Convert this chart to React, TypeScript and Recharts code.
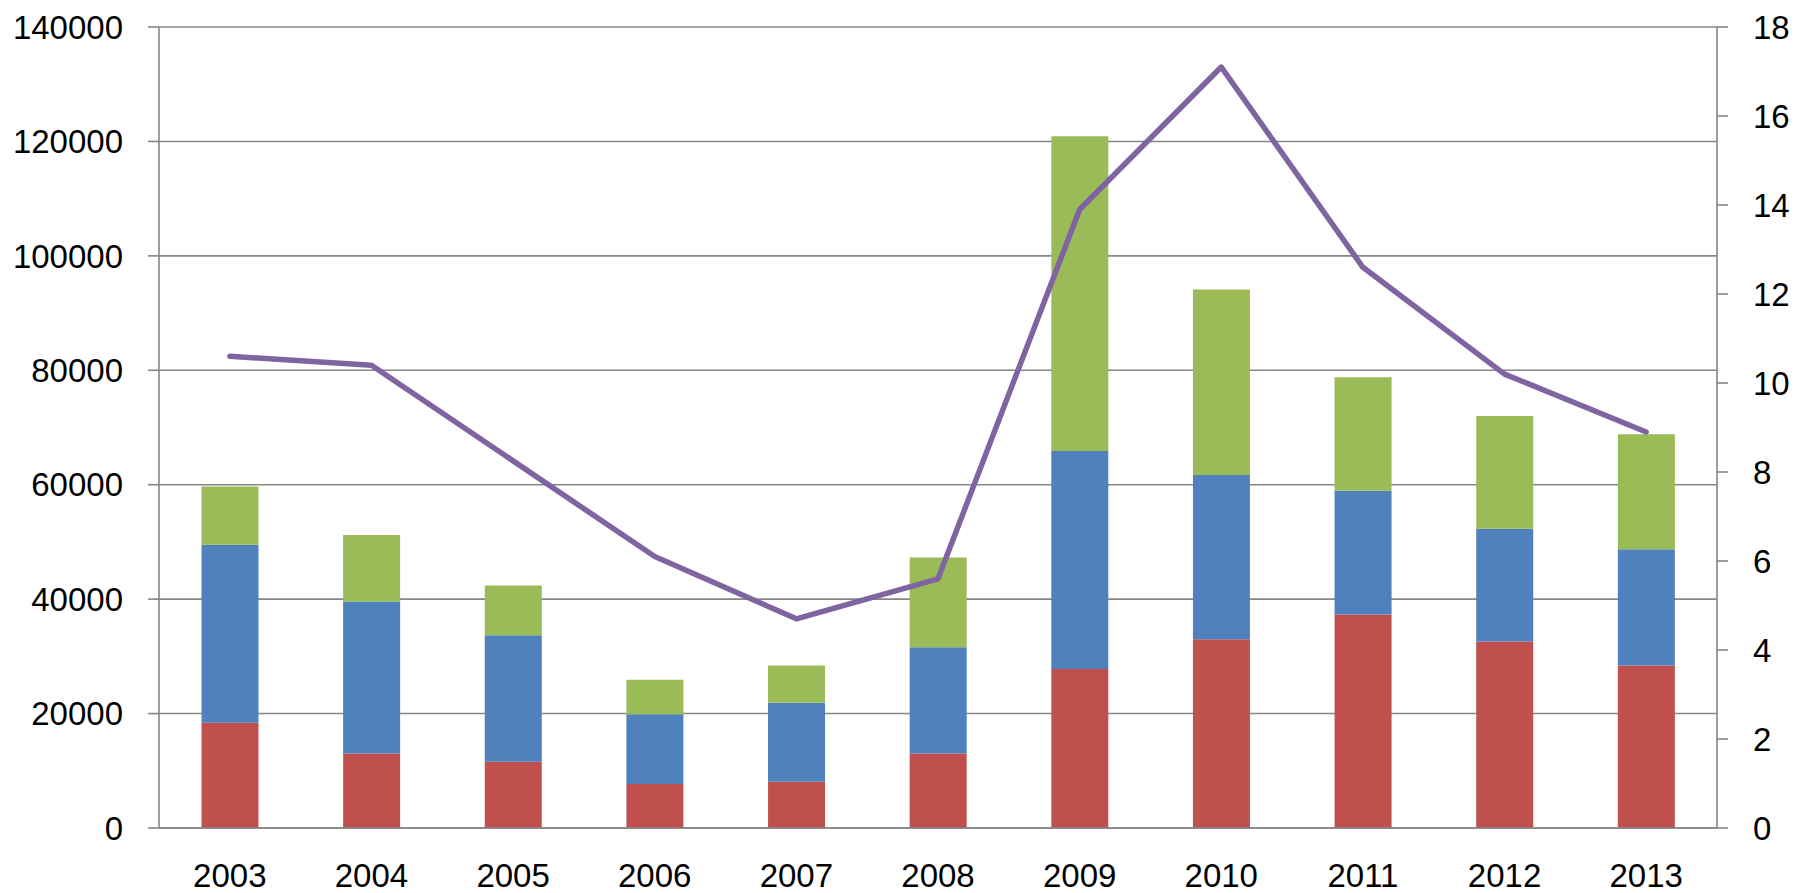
import { Bar, CartesianGrid, ComposedChart, Line, XAxis, YAxis } from "recharts";

const years = ["2003", "2004", "2005", "2006", "2007", "2008", "2009", "2010", "2011", "2012", "2013"];
const redValues = [18400, 13000, 11600, 7700, 8100, 13000, 27800, 33000, 37300, 32600, 28400];
const blueValues = [31100, 26600, 22100, 12200, 13800, 18600, 38100, 28700, 21650, 19700, 20300];
const greenValues = [10200, 11600, 8700, 6000, 6500, 15700, 55000, 32400, 19850, 19700, 20100];
const lineValues = [10.6, 10.4, 8.25, 6.1, 4.7, 5.6, 13.9, 17.1, 12.6, 10.2, 8.9];

const leftTicks = [0, 20000, 40000, 60000, 80000, 100000, 120000, 140000];
const rightTicks = [0, 2, 4, 6, 8, 10, 12, 14, 16, 18];
// boundaries between categories, for the tick marks under the x axis
const boundaryTicks = years.map((_, i) => i).concat(years.length);

const data = years.map((year, i) => ({
  year,
  red: redValues[i],
  blue: blueValues[i],
  green: greenValues[i],
  rate: lineValues[i],
}));

const AXIS_GRAY = "#868686";
const FONT = "'Liberation Sans', Arial, sans-serif";
const tickStyle = { fill: "#000", fontSize: 33, fontFamily: FONT };

export default function App() {
  return (
    <div style={{ position: "absolute", left: 0, top: 0, width: 1804, height: 893, background: "#fff" }}>
      <ComposedChart
        width={1804}
        height={893}
        data={data}
        margin={{ top: 27, right: 0, bottom: 0, left: 0 }}
        barCategoryGap="30%"
      >
        <CartesianGrid
          yAxisId="left"
          xAxisId="cat"
          vertical={false}
          stroke={AXIS_GRAY}
          strokeWidth={1.6}
        />
        <XAxis
          xAxisId="cat"
          dataKey="year"
          height={54}
          tickSize={0}
          tickMargin={25}
          axisLine={false}
          tickLine={false}
          tick={tickStyle}
          interval={0}
        />
        <XAxis
          xAxisId="aticks"
          type="number"
          domain={[0, years.length]}
          ticks={boundaryTicks}
          height={11}
          tickSize={11}
          tick={false}
          axisLine={{ stroke: AXIS_GRAY, strokeWidth: 1.6 }}
          tickLine={{ stroke: AXIS_GRAY, strokeWidth: 1.6 }}
        />
        <YAxis
          yAxisId="left"
          width={159}
          domain={[0, 140000]}
          ticks={leftTicks}
          tickSize={11}
          tickMargin={25}
          axisLine={{ stroke: AXIS_GRAY, strokeWidth: 1.6 }}
          tickLine={{ stroke: AXIS_GRAY, strokeWidth: 1.6 }}
          tick={tickStyle}
          interval={0}
        />
        <YAxis
          yAxisId="right"
          orientation="right"
          width={87}
          domain={[0, 18]}
          ticks={rightTicks}
          tickSize={11}
          tickMargin={25}
          axisLine={{ stroke: AXIS_GRAY, strokeWidth: 1.6 }}
          tickLine={{ stroke: AXIS_GRAY, strokeWidth: 1.6 }}
          tick={{ ...tickStyle, textAnchor: "start" }}
          interval={0}
        />
        <Bar xAxisId="cat" yAxisId="left" dataKey="red" stackId="s" fill="#C0504D" isAnimationActive={false} />
        <Bar xAxisId="cat" yAxisId="left" dataKey="blue" stackId="s" fill="#4F81BD" isAnimationActive={false} />
        <Bar xAxisId="cat" yAxisId="left" dataKey="green" stackId="s" fill="#9BBB59" isAnimationActive={false} />
        <Line
          xAxisId="cat"
          yAxisId="right"
          dataKey="rate"
          type="linear"
          stroke="#8064A2"
          strokeWidth={5.5}
          strokeLinecap="round"
          strokeLinejoin="round"
          dot={false}
          activeDot={false}
          isAnimationActive={false}
        />
      </ComposedChart>
    </div>
  );
}
